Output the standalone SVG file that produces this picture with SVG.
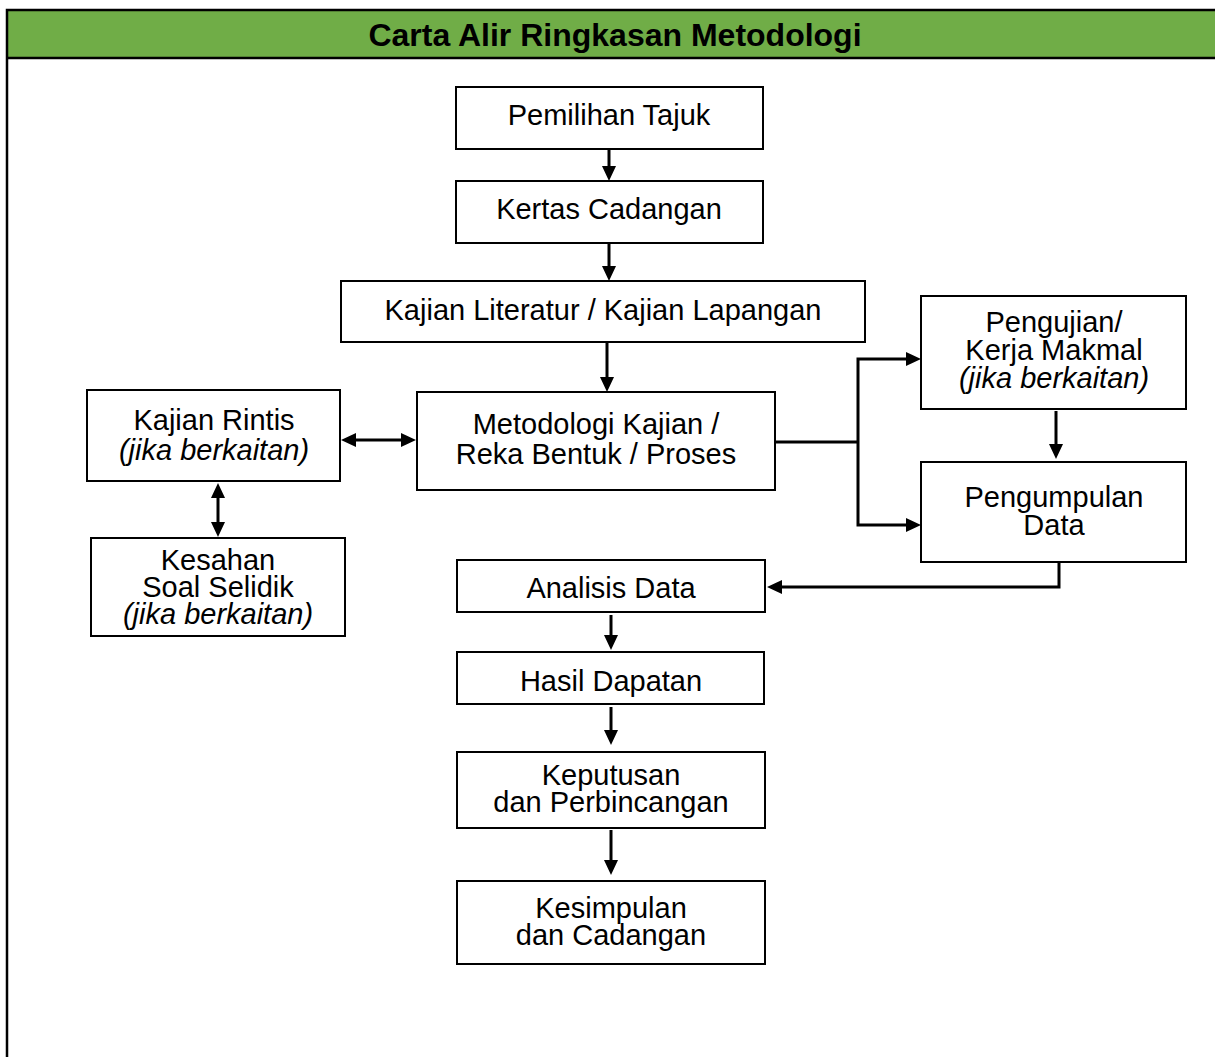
<svg xmlns="http://www.w3.org/2000/svg" width="1215" height="1057" viewBox="0 0 1215 1057">
<style>
.box{fill:#fff;stroke:#000;stroke-width:2}
.t{font-family:"Liberation Sans",Arial,sans-serif;font-size:29px;fill:#000;text-anchor:middle}
.i{font-style:italic}
.title{font-family:"Liberation Sans",Arial,sans-serif;font-size:32px;font-weight:bold;fill:#000;text-anchor:middle}
.c{fill:none;stroke:#000;stroke-width:3}
</style>
<defs>
<marker id="ah" markerUnits="userSpaceOnUse" markerWidth="16" markerHeight="16" refX="5" refY="7" orient="auto-start-reverse">
<path d="M0,0 L15,7 L0,14 Z" fill="#000"/>
</marker>
</defs>
<rect width="1215" height="1057" fill="#fff"/>
<g id="frame">
<rect x="7" y="10" width="1215" height="48" fill="#70AD47"/>
<rect x="7" y="10" width="1215" height="1060" fill="none" stroke="#000" stroke-width="2.5"/>
<line x1="7" y1="58" x2="1215" y2="58" stroke="#000" stroke-width="2.5"/>
<text class="title" x="615" y="46">Carta Alir Ringkasan Metodologi</text>
</g>
<g id="connectors">
<line class="c" x1="609" y1="149" x2="609" y2="171" marker-end="url(#ah)"/>
<line class="c" x1="609" y1="243" x2="609" y2="271" marker-end="url(#ah)"/>
<line class="c" x1="607" y1="342" x2="607" y2="382" marker-end="url(#ah)"/>
<line class="c" x1="351" y1="440" x2="406" y2="440" marker-start="url(#ah)" marker-end="url(#ah)"/>
<line class="c" x1="218" y1="493" x2="218" y2="527" marker-start="url(#ah)" marker-end="url(#ah)"/>
<polyline class="c" points="775,442 858,442"/>
<polyline class="c" points="911,359 858,359 858,525 911,525" marker-start="url(#ah)" marker-end="url(#ah)"/>
<line class="c" x1="1056" y1="411" x2="1056" y2="449" marker-end="url(#ah)"/>
<polyline class="c" points="1059,562 1059,587 777,587" marker-end="url(#ah)"/>
<line class="c" x1="611" y1="615" x2="611" y2="640" marker-end="url(#ah)"/>
<line class="c" x1="611" y1="707" x2="611" y2="735" marker-end="url(#ah)"/>
<line class="c" x1="611" y1="830" x2="611" y2="865" marker-end="url(#ah)"/>
</g>
<g id="n-pemilihan"><rect class="box" x="456" y="87" width="307" height="62"/><text class="t" x="609" y="125">Pemilihan Tajuk</text></g>
<g id="n-kertas"><rect class="box" x="456" y="181" width="307" height="62"/><text class="t" x="609" y="219">Kertas Cadangan</text></g>
<g id="n-kajianlit"><rect class="box" x="341" y="281" width="524" height="61"/><text class="t" x="603" y="320">Kajian Literatur / Kajian Lapangan</text></g>
<g id="n-metodologi"><rect class="box" x="417" y="392" width="358" height="98"/><text class="t" x="596" y="434">Metodologi Kajian /</text><text class="t" x="596" y="464">Reka Bentuk / Proses</text></g>
<g id="n-rintis"><rect class="box" x="87" y="390" width="253" height="91"/><text class="t" x="214" y="430">Kajian Rintis</text><text class="t i" x="214" y="460">(jika berkaitan)</text></g>
<g id="n-kesahan"><rect class="box" x="91" y="538" width="254" height="98"/><text class="t" x="218" y="570">Kesahan</text><text class="t" x="218" y="597">Soal Selidik</text><text class="t i" x="218" y="624">(jika berkaitan)</text></g>
<g id="n-pengujian"><rect class="box" x="921" y="296" width="265" height="113"/><text class="t" x="1054" y="332">Pengujian/</text><text class="t" x="1054" y="360">Kerja Makmal</text><text class="t i" x="1054" y="388">(jika berkaitan)</text></g>
<g id="n-pengumpulan"><rect class="box" x="921" y="462" width="265" height="100"/><text class="t" x="1054" y="507">Pengumpulan</text><text class="t" x="1054" y="535">Data</text></g>
<g id="n-analisis"><rect class="box" x="457" y="560" width="308" height="52"/><text class="t" x="611" y="598">Analisis Data</text></g>
<g id="n-hasil"><rect class="box" x="457" y="652" width="307" height="52"/><text class="t" x="611" y="691">Hasil Dapatan</text></g>
<g id="n-keputusan"><rect class="box" x="457" y="752" width="308" height="76"/><text class="t" x="611" y="785">Keputusan</text><text class="t" x="611" y="812">dan Perbincangan</text></g>
<g id="n-kesimpulan"><rect class="box" x="457" y="881" width="308" height="83"/><text class="t" x="611" y="918">Kesimpulan</text><text class="t" x="611" y="945">dan Cadangan</text></g>
</svg>
